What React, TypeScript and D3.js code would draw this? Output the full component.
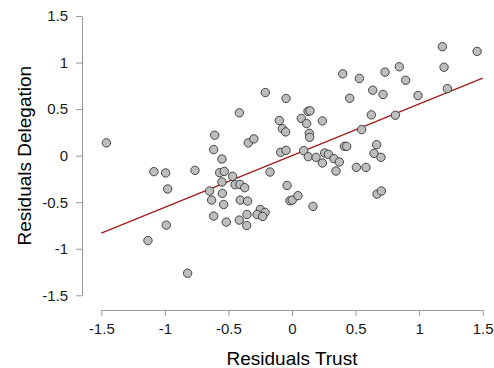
import { useEffect, useRef } from "react";
import * as d3 from "d3";

const trust = [
  -1.46, -0.608, -0.616, -0.551, -0.414, -0.344, -0.3, -0.21, -0.047, -0.1,
  -0.076, -0.05, -0.089, -0.047, 1.183, 1.456, 1.196, 1.222, 0.991, 0.844,
  0.894, 0.732, 0.53, 0.399, 0.635, 0.716, 0.454, 0.624, 0.813, 0.548,
  0.239, 0.073, 0.115, 0.126, 0.142, 0.136, 0.139, 0.092, 0.412, 0.43,
  0.666, 0.645, 0.7, 0.128, 0.189, 0.257, 0.286, 0.33, 0.372, 0.239,
  0.346, 0.506, 0.582, -0.039, -0.016, 0.002, 0.047, 0.165, 0.669, 0.703,
  -1.086, -0.994, -0.978, -0.763, -0.569, -0.533, -0.551, -0.467, -0.448, -0.409,
  -0.372, -0.648, -0.632, -0.548, -0.537, -0.407, -0.349, -0.173, -0.616, -0.517,
  -0.415, -0.354, -0.356, -0.249, -0.275, -0.212, -0.231, -0.989, -1.133, -0.821,
];

const delegation = [
  0.137, 0.22, 0.065, -0.036, 0.46, 0.137, 0.18, 0.678, 0.614, 0.377,
  0.29, 0.255, 0.036, 0.057, 1.17, 1.12, 0.95, 0.72, 0.646, 0.955,
  0.81, 0.897, 0.829, 0.879, 0.703, 0.657, 0.617, 0.438, 0.434, 0.28,
  0.373, 0.4, 0.344, 0.477, 0.481, 0.24, 0.197, 0.054, 0.1, 0.1,
  0.118, 0.025, -0.018, -0.011, -0.018, 0.029, 0.014, -0.032, -0.068, -0.079,
  -0.165, -0.126, -0.126, -0.32, -0.484, -0.477, -0.43, -0.545, -0.413, -0.38,
  -0.172, -0.186, -0.358, -0.158, -0.183, -0.169, -0.283, -0.222, -0.312, -0.309,
  -0.344, -0.38, -0.477, -0.405, -0.524, -0.477, -0.488, -0.176, -0.649, -0.714,
  -0.692, -0.632, -0.75, -0.578, -0.632, -0.61, -0.653, -0.746, -0.912, -1.263,
];

// fitted regression line, end points
const fitX = [-1.5, 1.5];
const fitY = [-0.832, 0.832];

const xTicks = [-1.5, -1, -0.5, 0, 0.5, 1, 1.5];
const yTicks = [-1.5, -1, -0.5, 0, 0.5, 1, 1.5];

export default function App() {
  const svgRef = useRef<SVGSVGElement>(null);

  useEffect(() => {
    if (!svgRef.current) return;
    const width = 494;
    const height = 368;
    const font = "'Liberation Sans', Arial, sans-serif";
    const axisColor = "#9a9a9a";

    const svg = d3.select(svgRef.current);
    svg.selectAll("*").remove();

    const x = d3.scaleLinear().domain([-1.5, 1.5]).range([101.3, 482.7]);
    const y = d3.scaleLinear().domain([-1.5, 1.5]).range([295.3, 16]);

    // Y axis (detached)
    const yAxis = svg
      .append("g")
      .attr("transform", "translate(82,0)")
      .call(
        d3
          .axisLeft(y)
          .tickValues(yTicks)
          .tickSize(6)
          .tickSizeOuter(0)
          .tickPadding(8)
          .tickFormat((d) => String(d))
      );
    yAxis.select(".domain").attr("stroke", axisColor);
    yAxis.selectAll(".tick line").attr("stroke", axisColor);
    yAxis
      .selectAll(".tick text")
      .attr("fill", "#1a1a1a")
      .attr("font-family", font)
      .attr("font-size", 15);

    // X axis (detached)
    const xAxis = svg
      .append("g")
      .attr("transform", "translate(0,310)")
      .call(
        d3
          .axisBottom(x)
          .tickValues(xTicks)
          .tickSize(6)
          .tickSizeOuter(0)
          .tickPadding(7)
          .tickFormat((d) => String(d))
      );
    xAxis.select(".domain").attr("stroke", axisColor);
    xAxis.selectAll(".tick line").attr("stroke", axisColor);
    xAxis
      .selectAll(".tick text")
      .attr("fill", "#1a1a1a")
      .attr("font-family", font)
      .attr("font-size", 15);

    // Axis titles
    svg
      .append("text")
      .attr("x", (x(-1.5) + x(1.5)) / 2)
      .attr("y", 365)
      .attr("text-anchor", "middle")
      .attr("font-family", font)
      .attr("font-size", 19)
      .attr("fill", "#000")
      .text("Residuals Trust");

    svg
      .append("text")
      .attr("transform", `translate(31,${(y(-1.5) + y(1.5)) / 2}) rotate(-90)`)
      .attr("text-anchor", "middle")
      .attr("font-family", font)
      .attr("font-size", 19)
      .attr("fill", "#000")
      .text("Residuals Delegation");

    // Regression line
    const line = d3
      .line<number>()
      .x((d) => x(d))
      .y((_, i) => y(fitY[i]));
    svg
      .append("path")
      .datum(fitX)
      .attr("fill", "none")
      .attr("stroke", "#a11d1d")
      .attr("stroke-width", 1.3)
      .attr("d", line);

    // Points
    svg
      .selectAll(".dot")
      .data(trust.map((t, i) => ({ x: t, y: delegation[i] })))
      .enter()
      .append("circle")
      .attr("class", "dot")
      .attr("cx", (d) => x(d.x))
      .attr("cy", (d) => y(d.y))
      .attr("r", 4.2)
      .attr("fill", "#bdbdbd")
      .attr("stroke", "#333")
      .attr("stroke-width", 0.9);

    svg.attr("width", width).attr("height", height);
  }, []);

  return (
    <svg
      ref={svgRef}
      width={494}
      height={368}
      style={{ position: "absolute", left: 0, top: 0, background: "#fff" }}
    />
  );
}
